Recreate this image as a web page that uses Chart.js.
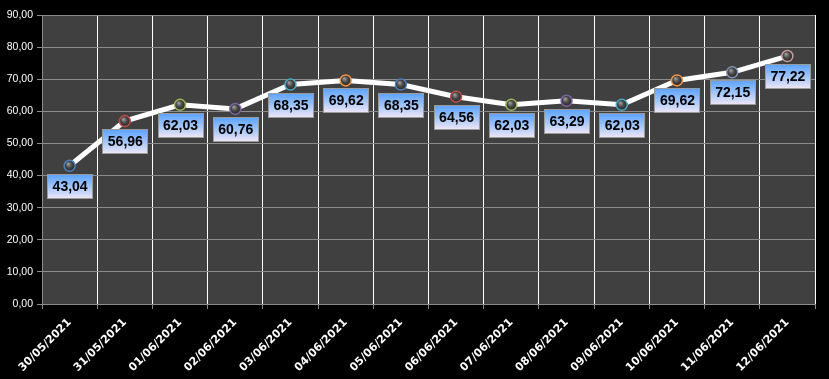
<!DOCTYPE html>
<html>
<head>
<meta charset="utf-8">
<script src="https://cdn.jsdelivr.net/npm/chart.js@4/dist/chart.umd.min.js"></script>
<style>
html,body{margin:0;padding:0;background:#000;}
#wrap{width:829px;height:379px;position:relative;}
</style>
</head>
<body>
<div id="wrap"><canvas id="c" width="829" height="379"></canvas></div>
<script>
const categories = ['30/05/2021','31/05/2021','01/06/2021','02/06/2021','03/06/2021','04/06/2021','05/06/2021','06/06/2021','07/06/2021','08/06/2021','09/06/2021','10/06/2021','11/06/2021','12/06/2021'];
const values = [43.04, 56.96, 62.03, 60.76, 68.35, 69.62, 68.35, 64.56, 62.03, 63.29, 62.03, 69.62, 72.15, 77.22];
const yTicks = [0, 10, 20, 30, 40, 50, 60, 70, 80, 90];
const markerRings = ['#4f81bd','#c0504d','#9bbb59','#8064a2','#4bacc6','#f79646','#4f81bd','#c0504d','#9bbb59','#8064a2','#4bacc6','#f79646','#8396b8','#c99a9a'];

const fmt = v => v.toFixed(2).replace('.', ',');

const plotBg = {
  id: 'plotBg',
  beforeDraw(chart) {
    const {ctx, chartArea: a} = chart;
    ctx.save();
    ctx.fillStyle = '#000000';
    ctx.fillRect(0, 0, chart.width, chart.height);
    ctx.fillStyle = '#404040';
    ctx.fillRect(a.left, a.top, a.right - a.left, a.bottom - a.top);
    ctx.restore();
  }
};

const valueLabels = {
  id: 'valueLabels',
  afterDatasetsDraw(chart) {
    const ctx = chart.ctx;
    const meta = chart.getDatasetMeta(0);
    ctx.save();
    ctx.font = 'bold 14px "Liberation Sans", Arial, sans-serif';
    ctx.textAlign = 'center';
    ctx.textBaseline = 'middle';
    meta.data.forEach((pt, i) => {
      const txt = fmt(chart.data.datasets[0].data[i]);
      const w = 45, h = 24;
      const x = Math.round(pt.x - w / 2) + 0.5;
      const y = Math.round(pt.y + 8) + 0.5;
      const g = ctx.createLinearGradient(0, y, 0, y + h);
      g.addColorStop(0, '#5aa2ff');
      g.addColorStop(0.55, '#a8c8fa');
      g.addColorStop(1, '#efe6f6');
      ctx.fillStyle = g;
      ctx.fillRect(x, y, w, h);
      ctx.strokeStyle = '#9a9a9a';
      ctx.lineWidth = 1;
      ctx.strokeRect(x, y, w, h);
      ctx.fillStyle = '#000000';
      ctx.fillText(txt, pt.x + 0.5, y + h / 2 + 1);
    });
    ctx.restore();
  }
};

function markerFill(context) {
  const chart = context.chart;
  if (!chart.chartArea || context.dataIndex === undefined) return '#333';
  const x = chart.scales.x.getPixelForValue(context.dataIndex);
  const y = chart.scales.y.getPixelForValue(context.parsed ? context.parsed.y : values[context.dataIndex]);
  if (!isFinite(x) || !isFinite(y)) return '#333';
  const g = chart.ctx.createRadialGradient(x - 1.5, y - 2, 0.5, x, y, 6);
  g.addColorStop(0, '#9a9a9a');
  g.addColorStop(0.45, '#4a4a4a');
  g.addColorStop(1, '#1e1e1e');
  return g;
}

new Chart(document.getElementById('c'), {
  type: 'line',
  data: {
    labels: categories,
    datasets: [{
      data: values,
      borderColor: '#ffffff',
      borderWidth: 5,
      tension: 0,
      pointRadius: 5.5,
      pointHoverRadius: 5.5,
      pointBorderWidth: 1.5,
      pointBorderColor: markerRings,
      pointBackgroundColor: markerFill
    }]
  },
  options: {
    responsive: false,
    animation: false,
    events: [],
    layout: { padding: { top: 15, right: 14, left: 0, bottom: 0 } },
    plugins: { legend: { display: false }, tooltip: { enabled: false } },
    scales: {
      x: {
        offset: true,
        grid: { display: true, offset: true, color: '#ffffff', lineWidth: 1, tickColor: '#8c8c8c', tickLength: 5, drawTicks: true },
        border: { display: true, color: '#8c8c8c', width: 1 },
        ticks: {
          color: '#ffffff',
          font: { family: '"DejaVu Sans", sans-serif', size: 11, weight: 'bold' },
          minRotation: 45, maxRotation: 45, autoSkip: false, padding: 7
        },
        afterFit(s) { s.height = 75; }
      },
      y: {
        min: 0, max: 90,
        afterBuildTicks(s) { s.ticks = yTicks.map(v => ({ value: v })); },
        grid: { color: '#8c8c8c', lineWidth: 1, tickColor: '#8c8c8c', tickLength: 5 },
        border: { display: true, color: '#8c8c8c', width: 1 },
        ticks: {
          color: '#ffffff',
          font: { family: '"Liberation Sans", Arial, sans-serif', size: 10.5 },
          padding: 4,
          callback: v => fmt(v)
        },
        afterFit(s) { s.width = 42; }
      }
    }
  },
  plugins: [plotBg, valueLabels]
});
</script>
</body>
</html>
